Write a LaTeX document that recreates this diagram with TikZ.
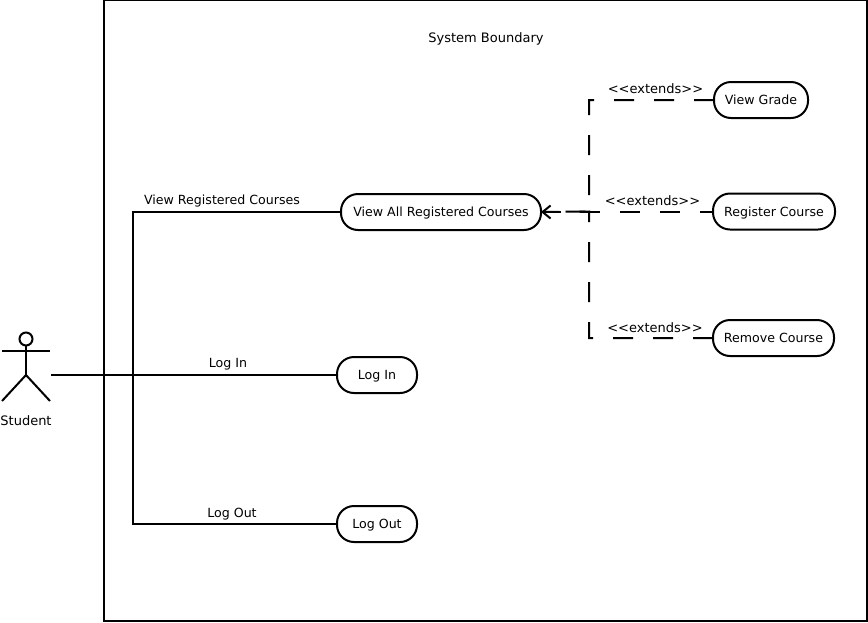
\documentclass[tikz,border=0pt]{standalone}
\usepackage{fontspec}
\setmainfont{DejaVu Sans}
\usetikzlibrary{arrows.meta}
\newcommand{\ext}{{<}{<}extends{>}{>}}
\newcommand{\lowertext}[1]{\raisebox{-1.2pt}[\height][\depth]{#1}}
\tikzset{
  lbl/.style={inner sep=0pt,font=\fontsize{13pt}{15pt}\selectfont,text=black},
  linklbl/.style={inner sep=0pt,font=\fontsize{12.6pt}{15pt}\selectfont,text=black},
  usecase/.style={draw,line width=2pt,rounded corners=17pt,minimum height=36pt,inner sep=0pt,outer sep=0pt,font=\fontsize{12.6pt}{15pt}\selectfont,text=black},
  solidline/.style={line width=2pt},
  extline/.style={line width=2pt,dash pattern=on 20pt off 20pt},
}
\begin{document}
\begin{tikzpicture}[x=1pt,y=-1pt]
\useasboundingbox (0,0) rectangle (868,622);
\fill[white] (0,0) rectangle (868,622);
\node[draw,line width=2pt,minimum width=763pt,minimum height=621pt,inner sep=0pt,outer sep=0pt] (boundary) at (485.5,310.5) {};
\node[lbl] (title) at (486,38.5) {System Boundary};

\node[usecase,minimum width=94pt] (vg) at (761,100) {View Grade};
\node[usecase,minimum width=122pt] (rc) at (774,211.5) {\lowertext{Register Course}};
\node[usecase,minimum width=121pt] (rm) at (773.5,338) {Remove Course};
\node[usecase,minimum width=200pt] (va) at (441,212) {\lowertext{View All Registered Courses}};
\node[usecase,minimum width=80pt] (li) at (377,375) {\lowertext{Log In}};
\node[usecase,minimum width=80pt] (lo) at (377,524) {\lowertext{Log Out}};

% actor
\node[draw,circle,line width=2pt,minimum size=13pt,inner sep=0pt,outer sep=0pt] (head) at (26,339) {};
\coordinate (hip) at (26,375);
\coordinate (armL) at (2,351);
\coordinate (armR) at (50,351);
\coordinate (legL) at (2,401);
\coordinate (legR) at (50,401);
\draw[solidline] (head.south) -- (hip);
\draw[solidline] (armL) -- (armR);
\draw[solidline] (legL) -- (hip) -- (legR);
\node[lbl] (student) at (26,421) {Student};

% solid connectors
\coordinate (actor) at (51,375);
\coordinate (trunk) at (133,375);
\draw[solidline] (actor) -- (li.west);
\draw[solidline] (trunk) |- (va.west);
\draw[solidline] (trunk) |- (lo.west);

% extends connectors
\coordinate (junction) at (589,211.5);
\coordinate (tipstart) at (561,212);
\draw[extline] (vg.west) -| (junction) -- (va.east);
\draw[extline] (rm.west) -| (junction) -- (va.east);
\draw[extline,dash phase=7pt] (rc.west) -- (rc.west -| va.east);
\draw[line width=2pt,-{Straight Barb[length=8pt,width=13pt,line width=2pt]}] (tipstart) -- (va.east);

\node[lbl] at (655.5,89) {\ext};
\node[lbl] at (652.5,201) {\ext};
\node[lbl] at (655,328) {\ext};
\node[linklbl] at (222,201.5) {View Registered Courses};
\node[linklbl] at (228,364) {Log In};
\node[linklbl] at (232,514) {Log Out};
\end{tikzpicture}
\end{document}
